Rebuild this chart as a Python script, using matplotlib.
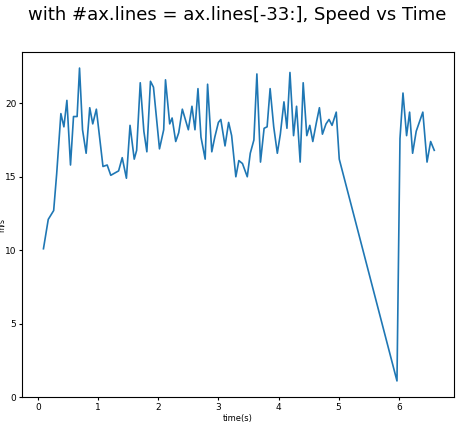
import matplotlib
matplotlib.use("Agg")
import matplotlib.pyplot as plt

time_s = [0.09, 0.17, 0.26, 0.31, 0.38, 0.43, 0.48, 0.54, 0.59, 0.65, 0.69, 0.74, 0.80, 0.86,
          0.91, 0.97, 1.08, 1.15, 1.21, 1.34, 1.40, 1.47, 1.53, 1.60, 1.64, 1.70, 1.76, 1.81,
          1.87, 1.92, 2.02, 2.09, 2.12, 2.19, 2.23, 2.29, 2.34, 2.40, 2.50, 2.56, 2.61, 2.66,
          2.71, 2.78, 2.82, 2.89, 2.94, 3.00, 3.04, 3.11, 3.17, 3.22, 3.29, 3.34, 3.40, 3.48,
          3.53, 3.59, 3.64, 3.70, 3.76, 3.81, 3.86, 3.92, 3.98, 4.03, 4.09, 4.14, 4.19, 4.25,
          4.30, 4.36, 4.41, 4.47, 4.52, 4.57, 4.63, 4.68, 4.73, 4.79, 4.84, 4.89, 4.96, 5.01,
          5.97, 6.02, 6.07, 6.13, 6.18, 6.23, 6.29, 6.40, 6.47, 6.53, 6.59]
speed = [10.1, 12.1, 12.7, 15.2, 19.3, 18.4, 20.2, 15.8, 19.1, 19.1, 22.4, 18.2, 16.6, 19.7,
         18.6, 19.6, 15.7, 15.8, 15.1, 15.4, 16.3, 14.9, 18.5, 16.2, 16.8, 21.4, 18.1, 16.7,
         21.5, 21.1, 16.9, 18.2, 21.6, 18.6, 19.0, 17.4, 18.0, 19.6, 18.2, 19.8, 18.2, 21.0,
         17.7, 16.2, 21.3, 16.7, 17.7, 18.7, 18.9, 17.1, 18.7, 17.8, 15.0, 16.1, 15.9, 15.0,
         16.6, 17.5, 22.0, 16.0, 18.3, 18.4, 21.0, 18.4, 16.6, 17.9, 20.1, 18.3, 22.1, 17.8,
         19.8, 16.0, 21.4, 17.8, 18.5, 17.4, 18.7, 19.7, 17.9, 18.6, 18.9, 18.5, 19.4, 16.2,
         1.1, 17.6, 20.7, 17.8, 19.4, 16.6, 18.1, 19.4, 16.0, 17.4, 16.8]

fig = plt.figure(figsize=(4.74, 4.22), dpi=100)
ax = fig.add_axes([0.046, 0.059, 0.912, 0.818])
ax.plot(time_s, speed, color="tab:blue", lw=1.2)
fig.suptitle("with #ax.lines = ax.lines[-33:], Speed vs Time", fontsize=13, y=0.985)
ax.set_xlabel("time(s)", fontsize=6, labelpad=2)
ax.set_ylabel("m/s", fontsize=5.5)
ax.yaxis.set_label_coords(-0.038, 0.5)
ax.tick_params(labelsize=6.5, length=2.5, pad=1.5)
ax.set_xlim(-0.27, 6.92)
ax.set_ylim(0, 23.5)
fig.savefig("out.png", dpi=100)
